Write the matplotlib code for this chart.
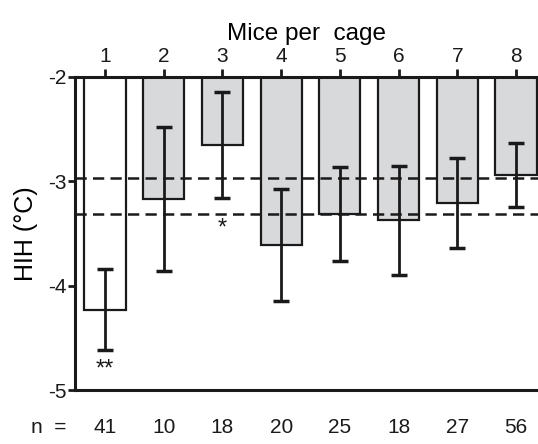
import matplotlib
matplotlib.use("Agg")
import matplotlib.pyplot as plt
import numpy as np

plt.rcParams['font.family'] = ['Liberation Sans', 'DejaVu Sans']

categories = [1, 2, 3, 4, 5, 6, 7, 8]
means = [-4.23, -3.17, -2.65, -3.61, -3.31, -3.375, -3.205, -2.94]
errors = [0.39, 0.69, 0.51, 0.535, 0.45, 0.52, 0.43, 0.31]
n_values = [41, 10, 18, 20, 25, 18, 27, 56]
ref_lines = [-2.97, -3.31]
stars = {1: "**", 3: "*"}
star_y = {1: -4.80, 3: -3.45}
baseline = -2.0

fig = plt.figure(figsize=(5.38, 4.44), dpi=100)
ax = fig.add_axes([75/538, 54/444, 1 - 75/538, (390-77)/444])

x = np.array(categories)
heights = np.array(means) - baseline
colors = ['white'] + ['#d8d9db'] * 7
ax.bar(x, heights, bottom=baseline, width=0.7, color=colors,
       edgecolor='#1a1a1a', linewidth=1.6, zorder=2)
ax.errorbar(x, means, yerr=errors, fmt='none', ecolor='#1a1a1a',
            elinewidth=2.0, capsize=5.5, capthick=2.5, zorder=3)
for r in ref_lines:
    ax.axhline(r, color='#1a1a1a', linestyle=(0, (4.5, 2.5)), linewidth=1.8, zorder=4)

for k, s in stars.items():
    ax.text(k, star_y[k], s, ha='center', va='center', fontsize=17, color='#1a1a1a')

ax.set_xlim(0.489, 8.375)
ax.set_ylim(-5, -2)
ax.set_yticks([-5, -4, -3, -2])
ax.set_yticklabels(['-5', '-4', '-3', '-2'])
ax.xaxis.tick_top()
ax.xaxis.set_label_position('top')
ax.set_xticks(x)
ax.set_xticklabels([str(c) for c in categories])
ax.set_xlabel('Mice per  cage', fontsize=17.5, labelpad=5)
ax.set_ylabel('HIH (°C)', fontsize=18, labelpad=7)
ax.tick_params(axis='both', labelsize=15, width=2, colors='#1a1a1a', direction='out')
ax.tick_params(axis='x', length=6, pad=2)
ax.tick_params(axis='y', length=5, pad=1)

for sp in ['right']:
    ax.spines[sp].set_visible(False)
for sp in ['left', 'top', 'bottom']:
    ax.spines[sp].set_linewidth(2.2)
    ax.spines[sp].set_color('#1a1a1a')

for xi, n in zip(x, n_values):
    ax.text(xi, -5.356, str(n), ha='center', va='center', fontsize=15,
            color='#1a1a1a', clip_on=False)
fig.text(49/538, 1 - 427/444, 'n  =', ha='center', va='center', fontsize=15, color='#1a1a1a')

fig.savefig('out.png', dpi=100)
